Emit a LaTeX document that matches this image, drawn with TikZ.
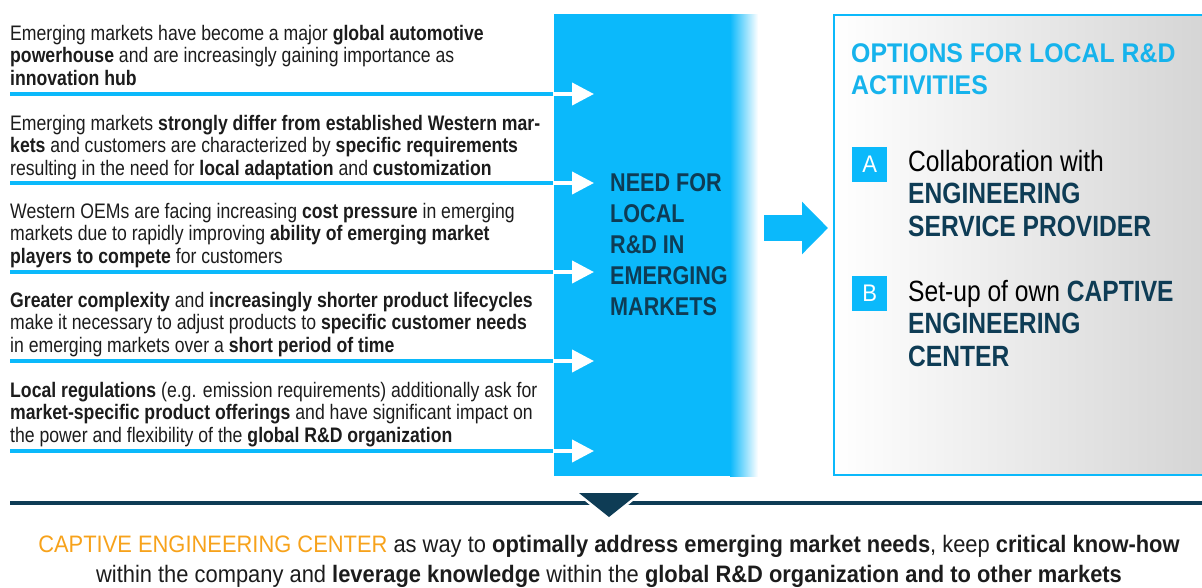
\documentclass[tikz,border=0pt]{standalone}
\usepackage{fontspec}
\setmainfont{Liberation Sans}[FakeStretch=0.84]
\newfontfamily\widerfont{Liberation Sans}[FakeStretch=0.92]
\usetikzlibrary{arrows.meta}

\definecolor{skyblue}{HTML}{0BB9FB}
\definecolor{deepteal}{HTML}{0E3C55}
\definecolor{titleblue}{HTML}{16B3EC}
\definecolor{bodytext}{HTML}{1C1C1C}
\definecolor{accentorange}{HTML}{F7A21B}
\definecolor{panelgray}{HTML}{D2D2D2}

\tikzset{
  body/.style={anchor=north west, inner sep=0pt, align=left, text=bodytext,
    font=\fontsize{21}{22.5}\selectfont},
  coltext/.style={anchor=north west, inner sep=0pt, align=left, text=deepteal,
    font=\bfseries\fontsize{25.7}{31.2}\selectfont},
  paneltitle/.style={anchor=north west, inner sep=0pt, align=left, text=titleblue,
    font=\widerfont\bfseries\fontsize{27}{32}\selectfont},
  optiontext/.style={anchor=north west, inner sep=0pt, align=left, text=black,
    font=\fontsize{29.3}{32.5}\selectfont},
  letterbox/.style={anchor=north west, fill=skyblue, text=white, inner sep=0pt,
    minimum width=35pt, minimum height=35pt, font=\widerfont\fontsize{24}{24}\selectfont},
  summary/.style={anchor=north, inner sep=0pt, align=center, text=bodytext,
    font=\widerfont\fontsize{23.8}{30}\selectfont},
  feedline/.style={skyblue, line width=3.5pt},
  feedarrow/.style={white, line width=4pt, -{Triangle[length=22pt, width=22pt]}},
  bigarrow/.style={skyblue, line width=26pt, -{Triangle[length=26pt, width=51pt]}},
}

\begin{document}
\begin{tikzpicture}[x=1pt, y=-1pt]
\useasboundingbox (0,0) rectangle (1202,587);
\clip (0,0) rectangle (1202,587);

% central column with its fading right edge
\fill[skyblue] (554,14) rectangle (731,476);
\shade[left color=skyblue, right color=white] (730,14) rectangle (758,476);
\node[coltext] (need) at (610,173) {NEED FOR\\LOCAL\\R\&D IN\\EMERGING\\MARKETS};

% options panel (runs past the right edge)
\shade[left color=white, right color=panelgray] (834,15) rectangle (1230,475);
\draw[skyblue, line width=2.5pt] (834,15) rectangle (1230,475);
\node[paneltitle] (title) at (851,43) {OPTIONS FOR LOCAL R\&D\\ACTIVITIES};
\node[letterbox] (boxA) at (852,147) {A};
\node[optiontext] (optA) at (908,150) {Collaboration with\\{\bfseries\color{deepteal}ENGINEERING}\\{\bfseries\color{deepteal}SERVICE PROVIDER}};
\node[letterbox] (boxB) at (852,276) {B};
\node[optiontext] (optB) at (908,280) {Set-up of own {\bfseries\color{deepteal}CAPTIVE}\\{\bfseries\color{deepteal}ENGINEERING}\\{\bfseries\color{deepteal}CENTER}};

% arrow from column to panel
\coordinate (bigS) at (764,228);
\coordinate (bigT) at (828,228);
\draw[bigarrow] (bigS) -- (bigT);

% driver statements
\node[body] (d1) at (10,25) {Emerging markets have become a major \textbf{global automotive}\\
\textbf{powerhouse} and are increasingly gaining importance as\\
\textbf{innovation hub}};
\node[body] (d2) at (10,115) {Emerging markets \textbf{strongly differ from established Western mar-}\\
\textbf{kets} and customers are characterized by \textbf{specific requirements}\\
resulting in the need for \textbf{local adaptation} and \textbf{customization}};
\node[body] (d3) at (10,203) {Western OEMs are facing increasing \textbf{cost pressure} in emerging\\
markets due to rapidly improving \textbf{ability of emerging market}\\
\textbf{players to compete} for customers};
\node[body] (d4) at (10,292) {\textbf{Greater complexity} and \textbf{increasingly shorter product lifecycles}\\
make it necessary to adjust products to \textbf{specific customer needs}\\
in emerging markets over a \textbf{short period of time}};
\node[body] (d5) at (10,382) {\textbf{Local regulations} (e.g. emission requirements) additionally ask for\\
\textbf{market-specific product offerings} and have significant impact on\\
the power and flexibility of the \textbf{global R\&D organization}};

% feed lines into the column
\foreach \i/\y in {1/94, 2/183, 3/272, 4/361, 5/451} {
  \coordinate (fs\i) at (10,\y);
  \coordinate (fm\i) at (553,\y);
  \coordinate (ft\i) at (594,\y);
  \draw[feedline] (fs\i) -- (fm\i);
  \draw[feedarrow] (fm\i) -- (ft\i);
}

% conclusion separator
\coordinate (sepL) at (10,502.5);
\coordinate (sepR) at (1202,502.5);
\draw[deepteal, line width=4pt] (sepL) -- (sepR);
\fill[white] (572,490) -- (646,490) -- (609,521) -- cycle;
\fill[deepteal] (579,493) -- (639,493) -- (609,517) -- cycle;

\node[summary] (concl) at (609,535) {{\color{accentorange}CAPTIVE ENGINEERING CENTER} as way to \textbf{optimally address emerging market needs}, keep \textbf{critical know-how}\\
within the company and \textbf{leverage knowledge} within the \textbf{global R\&D organization and to other markets}};
\end{tikzpicture}
\end{document}
